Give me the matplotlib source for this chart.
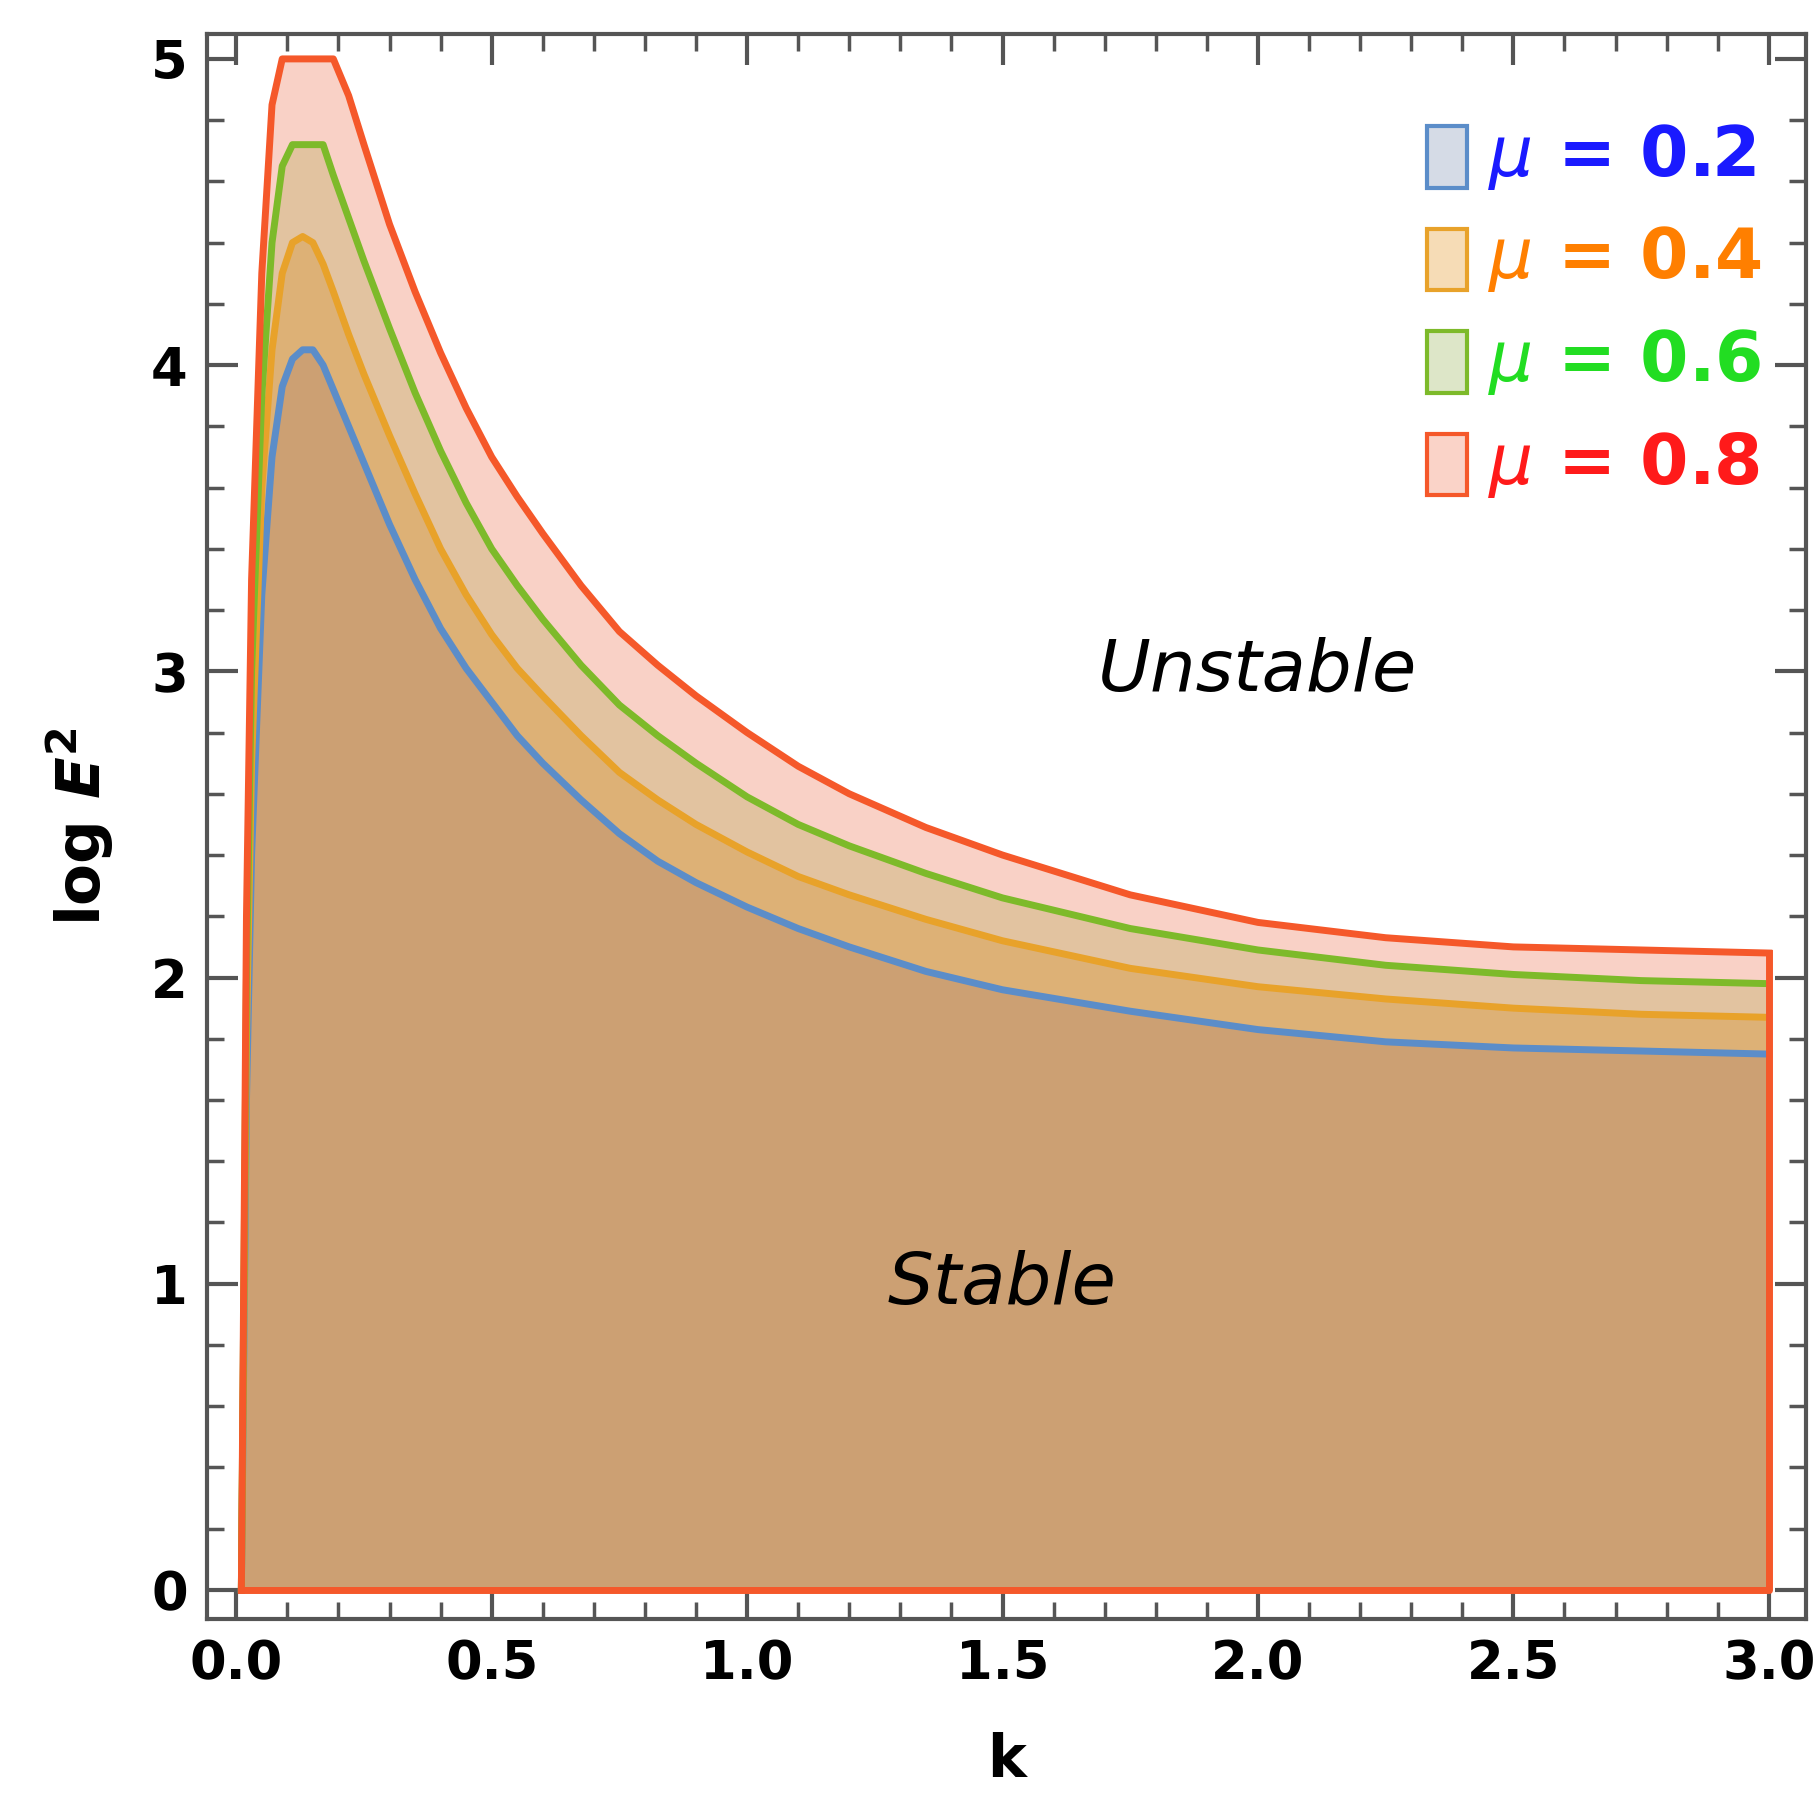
import matplotlib.pyplot as plt
import numpy as np
from matplotlib.ticker import MultipleLocator
from matplotlib.patches import Rectangle

k = [0.01, 0.02, 0.03, 0.05, 0.07, 0.09, 0.11, 0.13, 0.15, 0.17, 0.19, 0.22, 0.25, 0.3, 0.35,
     0.4, 0.45, 0.5, 0.55, 0.6, 0.675, 0.75, 0.825, 0.9, 1.0, 1.1, 1.2, 1.35, 1.5, 1.75, 2.0,
     2.25, 2.5, 2.75, 3.0]
mu02 = [0.0, 1.6, 2.4, 3.25, 3.7, 3.93, 4.02, 4.05, 4.05, 4.0, 3.92, 3.8, 3.68, 3.48, 3.3,
        3.14, 3.01, 2.9, 2.79, 2.7, 2.58, 2.47, 2.38, 2.31, 2.23, 2.16, 2.1, 2.02, 1.96, 1.89,
        1.83, 1.79, 1.77, 1.76, 1.75]
mu04 = [0.0, 1.8, 2.7, 3.6, 4.05, 4.3, 4.4, 4.42, 4.4, 4.33, 4.24, 4.1, 3.97, 3.77, 3.58,
        3.4, 3.25, 3.12, 3.01, 2.92, 2.79, 2.67, 2.58, 2.5, 2.41, 2.33, 2.27, 2.19, 2.12, 2.03,
        1.97, 1.93, 1.9, 1.88, 1.87]
mu06 = [0.0, 2.0, 3.0, 3.9, 4.4, 4.65, 4.72, 4.72, 4.72, 4.72, 4.62, 4.48, 4.34, 4.12, 3.91,
        3.72, 3.55, 3.4, 3.28, 3.17, 3.02, 2.89, 2.79, 2.7, 2.59, 2.5, 2.43, 2.34, 2.26, 2.16,
        2.09, 2.04, 2.01, 1.99, 1.98]
mu08 = [0.0, 2.2, 3.3, 4.3, 4.85, 5.0, 5.0, 5.0, 5.0, 5.0, 5.0, 4.88, 4.72, 4.46, 4.24,
        4.04, 3.86, 3.7, 3.57, 3.45, 3.28, 3.13, 3.02, 2.92, 2.8, 2.69, 2.6, 2.49, 2.4, 2.27,
        2.18, 2.13, 2.1, 2.09, 2.08]

labels = ['0.2', '0.4', '0.6', '0.8']
line_colors = ['#5b8dc9', '#e8a22a', '#7dba2a', '#f5582a']
text_colors = ['#1a1aff', '#ff7f00', '#22dd22', '#ff1a1a']
band_colors = ['#cca073', '#ddb176', '#e2c3a0', '#f9d1c6']
legend_fill = ['#d5dbe6', '#f6dcb6', '#dde6c8', '#fad3c8']

fig = plt.figure(figsize=(18.17, 18.11), dpi=100)
ax = fig.add_axes([0.114, 0.106, 0.88, 0.875])

series = [mu02, mu04, mu06, mu08]
prev = [0.0] * len(k)
for s, c in zip(series, band_colors):
    ax.fill_between(k, prev, s, color=c, linewidth=0)
    prev = s
for s, c in zip(series, line_colors):
    ax.plot(k, s, color=c, linewidth=5, solid_joinstyle='round')
# outline of region
ax.plot([k[0], k[-1], k[-1]], [0, 0, mu08[-1]], color=line_colors[3], linewidth=5)
ax.plot([k[0], k[0]], [0, mu08[0]], color=line_colors[3], linewidth=5)

ax.set_xlim(-0.057, 3.073)
ax.set_ylim(-0.095, 5.08)
ax.xaxis.set_minor_locator(MultipleLocator(0.1))
ax.yaxis.set_major_locator(MultipleLocator(1))
ax.yaxis.set_minor_locator(MultipleLocator(0.2))
ax.set_xticks(np.arange(0, 3.01, 0.5))
ax.set_xticklabels([f'{v:.1f}' for v in np.arange(0, 3.01, 0.5)])
ax.tick_params(which='both', direction='in', top=True, right=True, color='#555555')
ax.tick_params(which='major', length=22, width=3, labelsize=38, pad=14)
ax.tick_params(which='minor', length=12, width=2.5)
for lab in ax.get_xticklabels() + ax.get_yticklabels():
    lab.set_fontweight('bold')
for sp in ax.spines.values():
    sp.set_color('#555555')
    sp.set_linewidth(3)

ax.set_xlabel('k', fontsize=42, fontweight='bold', labelpad=30)
ax.set_ylabel(r'log $\boldsymbol{E}^{\mathbf{2}}$', fontsize=44, fontweight='bold', labelpad=25)

ax.text(2.0, 3.0, 'Unstable', fontsize=52, style='italic', ha='center', va='center')
ax.text(1.5, 1.0, 'Stable', fontsize=52, style='italic', ha='center', va='center')

# legend
for i, (lab, lc, tc, fc) in enumerate(zip(labels, line_colors, text_colors, legend_fill)):
    y = 4.68 - i * 0.335
    ax.add_patch(Rectangle((2.33, y - 0.1), 0.08, 0.2, facecolor=fc, edgecolor=lc,
                           linewidth=3))
    ax.text(2.45, y, r'$\mu$' + ' = ' + lab, color=tc, fontsize=50, fontweight='bold',
            va='center', ha='left')

fig.savefig('out.png', dpi=100)
